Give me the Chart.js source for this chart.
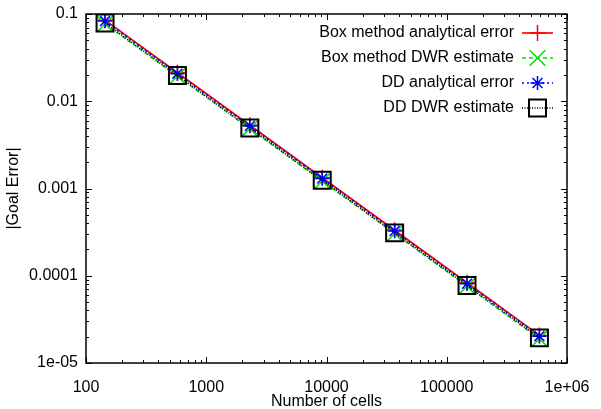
<!DOCTYPE html>
<html>
<head>
<meta charset="utf-8">
<script src="https://cdn.jsdelivr.net/npm/chart.js@4/dist/chart.umd.min.js"></script>
<style>
  html, body { margin: 0; padding: 0; background: #fff; }
  canvas { display: block; }
</style>
</head>
<body>
<canvas id="chart" width="601" height="409"></canvas>
<script>
// Goal error convergence, log-log
const nCells = [144, 576, 2304, 9216, 36864, 147456, 589824];
const boxAnalytical = [0.085, 0.0212, 0.0053, 0.00133, 0.000332, 8.3e-5, 2.07e-5];
const boxDWR = [0.077, 0.0194, 0.00486, 0.00122, 0.000305, 7.6e-5, 1.9e-5];
const ddAnalytical = [0.083, 0.0207, 0.0052, 0.0013, 0.000325, 8.1e-5, 2.03e-5];
const ddDWR = [0.079, 0.0197, 0.00494, 0.00124, 0.00031, 7.75e-5, 1.94e-5];

const xTickValues = [100, 1000, 10000, 100000, 1000000];
const xTickLabels = ['100', '1000', '10000', '100000', '1e+06'];
const yTickValues = [1e-5, 1e-4, 1e-3, 1e-2, 1e-1];
const yTickLabels = ['1e-05', '0.0001', '0.001', '0.01', '0.1'];

const FONT = 'Liberation Sans, Helvetica, Arial, sans-serif';

const toPoints = ys => nCells.map((n, i) => ({ x: n, y: ys[i] }));

const series = [
  { label: 'Box method analytical error', data: boxAnalytical, color: '#ff0000', dash: [], style: 'cross', radius: 8, width: 1.5 },
  { label: 'Box method DWR estimate', data: boxDWR, color: '#00e000', dash: [4, 3], style: 'crossRot', radius: 11, width: 1.5 },
  { label: 'DD analytical error', data: ddAnalytical, color: '#0000ff', dash: [2, 3], style: 'star', radius: 7, width: 1.5 },
  { label: 'DD DWR estimate', data: ddDWR, color: '#000000', dash: [1, 1.5], style: 'rect', radius: 12, width: 2 }
];

const datasets = series.map((s, i) => ({
  label: s.label,
  data: toPoints(s.data),
  showLine: true,
  borderColor: s.color,
  backgroundColor: 'transparent',
  borderWidth: 1.7,
  borderDash: s.dash,
  pointStyle: s.style,
  pointRadius: s.radius,
  pointBorderWidth: s.width,
  pointBorderColor: s.color,
  pointBackgroundColor: 'transparent',
  // later series drawn on top
  order: series.length - i
}));

// Box around the plot with inward major/minor ticks on every side, plus the key
const framePlugin = {
  id: 'frame',
  afterDraw(chart) {
    const { ctx, chartArea: a, scales } = chart;
    const xs = scales.x, ys = scales.y;
    ctx.save();
    ctx.strokeStyle = '#000';
    ctx.lineWidth = 1;
    ctx.setLineDash([]);

    const minors = (lo, hi) => {
      const out = [];
      for (let d = lo; d < hi; d *= 10) {
        for (let k = 1; k <= 10; k++) out.push({ v: d * k, major: k === 1 || k === 10 });
      }
      return out;
    };

    ctx.beginPath();
    minors(xs.min, xs.max).forEach(t => {
      const px = Math.round(xs.getPixelForValue(t.v)) + 0.5;
      const len = t.major ? 6 : 3;
      ctx.moveTo(px, a.bottom); ctx.lineTo(px, a.bottom - len);
      ctx.moveTo(px, a.top); ctx.lineTo(px, a.top + len);
    });
    minors(ys.min, ys.max).forEach(t => {
      const py = Math.round(ys.getPixelForValue(t.v)) + 0.5;
      const len = t.major ? 6 : 3;
      ctx.moveTo(a.left, py); ctx.lineTo(a.left + len, py);
      ctx.moveTo(a.right, py); ctx.lineTo(a.right - len, py);
    });
    ctx.stroke();

    ctx.lineWidth = 1.5;
    ctx.strokeRect(a.left, a.top, a.right - a.left, a.bottom - a.top);

    // key, top right
    ctx.font = '16px ' + FONT;
    ctx.fillStyle = '#000';
    ctx.textAlign = 'right';
    ctx.textBaseline = 'middle';
    chart.data.datasets.forEach((ds, i) => {
      const y = a.top + 19 + i * 25;
      const textRight = a.right - 53;
      ctx.fillText(ds.label, textRight, y);
      const x0 = textRight + 8, x1 = textRight + 39;
      ctx.save();
      ctx.strokeStyle = ds.borderColor;
      ctx.lineWidth = ds.borderWidth;
      ctx.setLineDash(ds.borderDash);
      ctx.beginPath();
      ctx.moveTo(x0, y); ctx.lineTo(x1, y);
      ctx.stroke();
      ctx.setLineDash([]);
      ctx.lineWidth = ds.pointBorderWidth;
      ctx.fillStyle = 'transparent';
      Chart.helpers.drawPoint(ctx, {
        pointStyle: ds.pointStyle, radius: ds.pointRadius, rotation: 0, borderWidth: ds.pointBorderWidth
      }, (x0 + x1) / 2, y);
      ctx.restore();
    });
    ctx.restore();
  }
};

new Chart(document.getElementById('chart'), {
  type: 'scatter',
  data: { datasets },
  options: {
    responsive: false,
    animation: false,
    devicePixelRatio: 1,
    layout: { padding: { top: 10, right: 34, left: 0, bottom: 0 } },
    plugins: { legend: { display: false }, tooltip: { enabled: false } },
    scales: {
      x: {
        type: 'logarithmic',
        min: 100,
        max: 1000000,
        grid: { display: false, drawTicks: false },
        border: { display: false },
        afterBuildTicks: s => { s.ticks = xTickValues.map(v => ({ value: v })); },
        afterFit: s => { s.height = 46; s.paddingLeft = 0; s.paddingRight = 0; },
        ticks: {
          autoSkip: false,
          maxRotation: 0,
          padding: 15,
          color: '#000',
          font: { family: FONT, size: 16 },
          callback: v => xTickLabels[xTickValues.indexOf(v)]
        },
        title: {
          display: true,
          text: 'Number of cells',
          color: '#000',
          font: { family: FONT, size: 16 },
          padding: { top: 0, bottom: -2 }
        }
      },
      y: {
        type: 'logarithmic',
        min: 1e-5,
        max: 0.1,
        grid: { display: false, drawTicks: false },
        border: { display: false },
        afterBuildTicks: s => { s.ticks = yTickValues.map(v => ({ value: v })); },
        afterFit: s => { s.width = 86; s.paddingTop = 0; s.paddingBottom = 0; },
        ticks: {
          autoSkip: false,
          padding: 8,
          color: '#000',
          font: { family: FONT, size: 16 },
          callback: v => yTickLabels[yTickValues.indexOf(v)]
        },
        title: {
          display: true,
          text: '|Goal Error|',
          color: '#000',
          font: { family: FONT, size: 16 },
          padding: { top: 4, bottom: 0 }
        }
      }
    }
  },
  plugins: [framePlugin]
});
</script>
</body>
</html>
